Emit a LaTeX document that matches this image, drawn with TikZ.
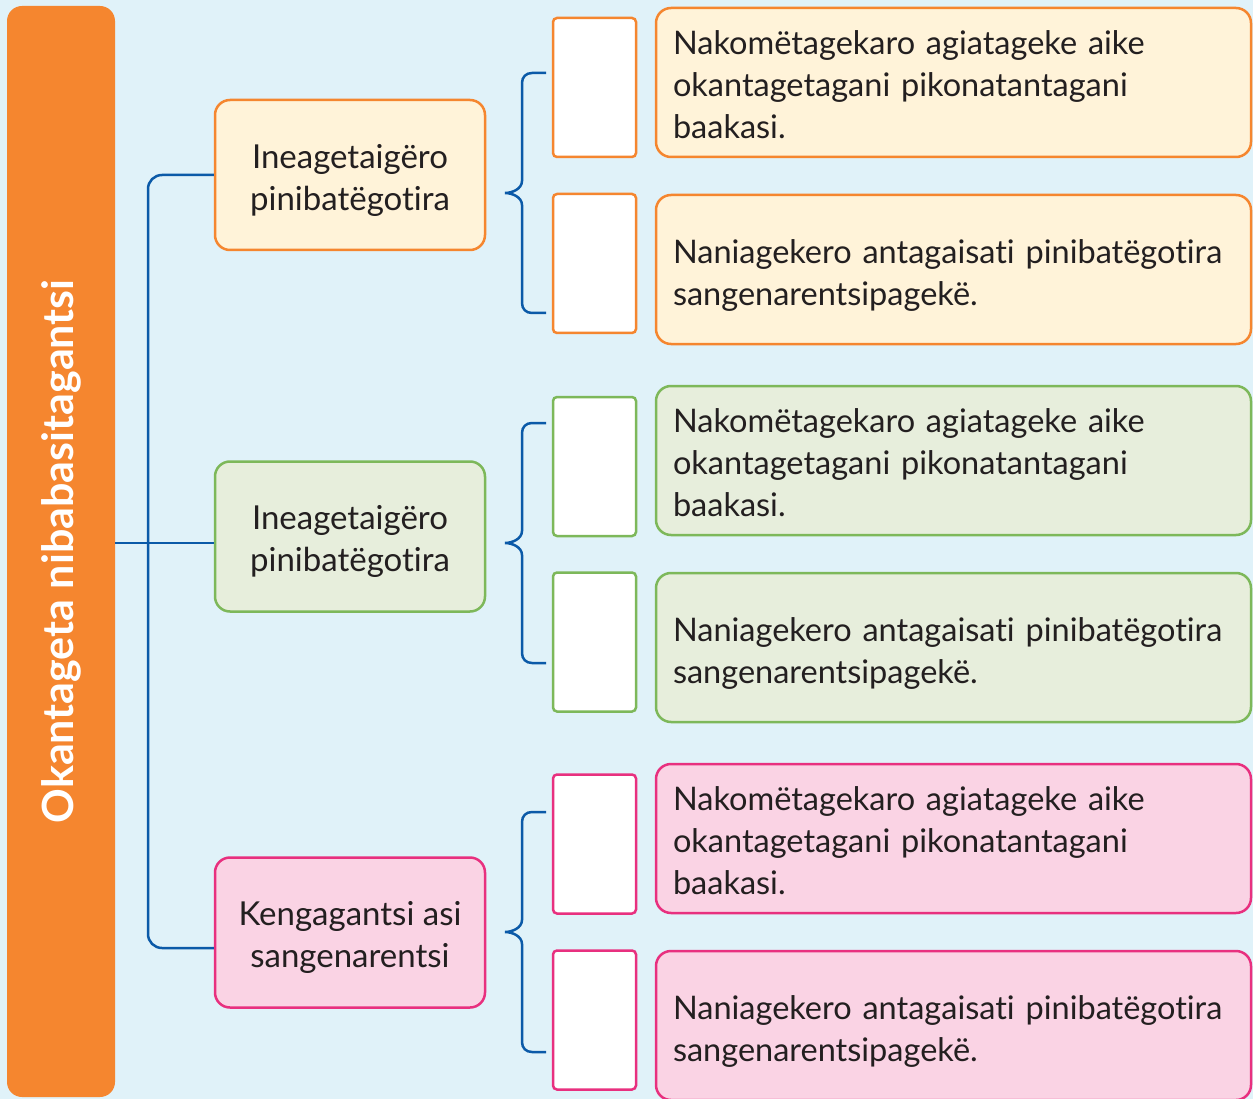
\documentclass[tikz,border=0pt]{standalone}
\usepackage{fontspec}
\setmainfont{Lato}[Ligatures=NoCommon]
\definecolor{bgblue}{HTML}{E0F2F9}
\definecolor{barorange}{HTML}{F5862F}
\definecolor{ofill}{HTML}{FFF3D9}
\definecolor{gborder}{HTML}{7DB85A}
\definecolor{gfill}{HTML}{E7EEDC}
\definecolor{pborder}{HTML}{E8307F}
\definecolor{pfill}{HTML}{FAD3E4}
\definecolor{lineblue}{HTML}{0B5AA8}
\definecolor{txt}{HTML}{231F20}
\tikzset{
  midbox/.style={draw, line width=2.5pt, rounded corners=15pt, minimum width=270pt, minimum height=150pt},
  midtext/.style={align=center, text=txt, font=\fontsize{33}{42}\selectfont},
  blankbox/.style={draw, fill=white, line width=2.5pt, rounded corners=4pt, minimum width=83pt, minimum height=139pt},
  infobox/.style={draw, line width=2.5pt, rounded corners=15pt, minimum width=595pt, minimum height=149pt},
  infotext/.style={text width=561pt, inner xsep=0pt, align=left, text=txt, font=\fontsize{32.5}{42}\selectfont},
  obox/.style={draw=barorange, fill=ofill},
  gbox/.style={draw=gborder, fill=gfill},
  pbox/.style={draw=pborder, fill=pfill},
  blueline/.style={draw=lineblue, line width=2.5pt},
  bluebrace/.pic={
    \draw[blueline] (546,-120) -- (532,-120) .. controls (526,-120) and (522,-116) .. (522,-110)
      -- (522,-12) .. controls (522,-4) and (512,0) .. (505,0)
      .. controls (512,0) and (522,4) .. (522,12)
      -- (522,110) .. controls (522,116) and (526,120) .. (532,120) -- (546,120);
  }
}
\begin{document}
\begin{tikzpicture}[x=1pt,y=-1pt]
\fill[bgblue] (0,0) rectangle (1253,1099);
\useasboundingbox (0,0) rectangle (1253,1099);
% title bar
\node[fill=barorange, rounded corners=15pt, minimum width=1091pt, minimum height=108pt, rotate=90,
  text=white, font=\fontsize{43}{48}\selectfont\bfseries, inner sep=0pt] (bar) at (61,551.5) {Okantageta nibabasitagantsi};
% middle boxes
\node[midbox, obox] (ob) at (350,175) {};
\node[midbox, gbox] (gb) at (350,536.5) {};
\node[midbox, pbox] (pb) at (350,932.5) {};
\node[midtext] (obt) at ([yshift=-5pt]ob.center) {Ineagetaigëro\\pinibatëgotira};
\node[midtext] (gbt) at ([yshift=-5pt]gb.center) {Ineagetaigëro\\pinibatëgotira};
\node[midtext] (pbt) at ([yshift=-5pt]pb.center) {Kengagantsi asi\\sangenarentsi};
% tree connectors
\draw[blueline, rounded corners=14pt] (ob.west) -- (148,175) -- (148,948) -- (pb.west |- 0,948);
\draw[blueline] (bar.south |- 0,543) -- (gb.west |- 0,543);
% braces
\pic at (0,193) {bluebrace};
\pic at (0,543) {bluebrace};
\pic at (0,932) {bluebrace};
% blank boxes
\node[blankbox, draw=barorange] (w1) at (594.5,87.5) {};
\node[blankbox, draw=barorange] (w2) at (594.5,263.5) {};
\node[blankbox, draw=gborder] (w3) at (594.5,466.5) {};
\node[blankbox, draw=gborder] (w4) at (594.5,642) {};
\node[blankbox, draw=pborder] (w5) at (594.5,844) {};
\node[blankbox, draw=pborder] (w6) at (594.5,1020) {};
% info boxes
\node[infobox, obox] (i1) at (953.5,82.5) {};
\node[infobox, obox] (i2) at (953.5,269.5) {};
\node[infobox, gbox] (i3) at (953.5,460.5) {};
\node[infobox, gbox] (i4) at (953.5,647.5) {};
\node[infobox, pbox] (i5) at (953.5,838.5) {};
\node[infobox, pbox] (i6) at (953.5,1025.5) {};
\node[infotext] (t1) at ([yshift=-2.5pt]i1.center) {Nakomëtagekaro agiatageke aike\\okantagetagani pikonatantagani\\baakasi.};
\node[infotext] (t2) at ([yshift=-5.5pt]i2.center) {Naniagekero antagaisati pinibatëgotira\\sangenarentsipagekë.};
\node[infotext] (t3) at ([yshift=-2.5pt]i3.center) {Nakomëtagekaro agiatageke aike\\okantagetagani pikonatantagani\\baakasi.};
\node[infotext] (t4) at ([yshift=-5.5pt]i4.center) {Naniagekero antagaisati pinibatëgotira\\sangenarentsipagekë.};
\node[infotext] (t5) at ([yshift=-2.5pt]i5.center) {Nakomëtagekaro agiatageke aike\\okantagetagani pikonatantagani\\baakasi.};
\node[infotext] (t6) at ([yshift=-5.5pt]i6.center) {Naniagekero antagaisati pinibatëgotira\\sangenarentsipagekë.};
\end{tikzpicture}
\end{document}
